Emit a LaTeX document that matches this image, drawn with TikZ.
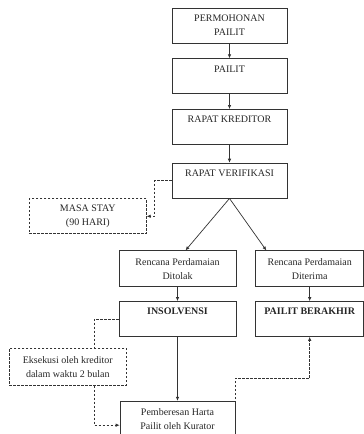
\documentclass[tikz,border=0pt]{standalone}
\usepackage{fontspec}
\setmainfont{Liberation Serif}
\usetikzlibrary{arrows.meta,positioning}

\begin{document}
\begin{tikzpicture}[
    x=1pt, y=1pt,
    >={Latex[length=4pt,width=3.5pt]},
    node distance=15pt and 19pt,
    box/.style={draw=black!80, line width=0.7pt, minimum width=115pt, minimum height=35pt, inner sep=2pt, align=center, font=\fontsize{10}{14}\selectfont, text=black!85},
    topbox/.style={box, text height=7pt, text depth=15pt},
    dbox/.style={box, minimum width=117pt, dash pattern=on 2.5pt off 1.5pt},
    line/.style={->, line width=0.7pt, draw=black!80},
    dline/.style={line, dash pattern=on 2.5pt off 1.5pt}
]
\useasboundingbox (0,0) rectangle (364,434);

% Main column
\node[box] (permohonan) at (229.5,408.5) {PERMOHONAN\\PAILIT};
\node[topbox, below=of permohonan] (pailit) {PAILIT};
\node[topbox, below=of pailit] (kreditor) {RAPAT KREDITOR};
\node[topbox, below=18pt of kreditor] (verifikasi) {RAPAT VERIFIKASI};

\draw[line] (permohonan) -- (pailit);
\draw[line] (pailit) -- (kreditor);
\draw[line] (kreditor) -- (verifikasi);

% Masa stay
\node[dbox, below left=0pt and 25pt of verifikasi] (stay) {MASA STAY\\(90 HARI)};
\draw[dline] (verifikasi.west) -- ++(-17,0) |- (stay.east);

% Rencana perdamaian
\node[box, minimum width=117pt, minimum height=36pt, below=52pt of verifikasi, xshift=-52pt] (ditolak) {Rencana Perdamaian\\Ditolak};
\node[box, minimum width=108pt, minimum height=36pt, right=of ditolak] (diterima) {Rencana Perdamaian\\Diterima};
\draw[line] (verifikasi.south) -- ([xshift=8pt]ditolak.north);
\draw[line] (verifikasi.south) -- ([xshift=11pt]diterima.north west);

\node[topbox, minimum width=117pt, below=14pt of ditolak, font=\fontsize{10}{14}\selectfont\bfseries] (insolvensi) {INSOLVENSI};
\node[topbox, minimum width=108pt, below=14pt of diterima, font=\fontsize{10}{14}\selectfont\bfseries] (berakhir) {PAILIT BERAKHIR};
\draw[line] (ditolak) -- (insolvensi);
\draw[line] (diterima) -- (berakhir);

% Eksekusi + pemberesan
\node[dbox, minimum height=37pt, below left=11pt and -8pt of insolvensi] (eksekusi) {Eksekusi oleh kreditor\\dalam waktu 2 bulan};
\node[box, minimum height=36pt, below=64pt of insolvensi] (pemberesan) {Pemberesan Harta\\Pailit oleh Kurator};

\draw[line] (insolvensi) -- (pemberesan);
\draw[dline, -] (insolvensi.west) -| ([xshift=26.5pt]eksekusi.north);
\draw[dline] ([xshift=26.5pt]eksekusi.south) |- ([yshift=-6pt]pemberesan.west);
\draw[dline] (pemberesan.east) -- ++(0,41) -| (berakhir.south);

\end{tikzpicture}
\end{document}
